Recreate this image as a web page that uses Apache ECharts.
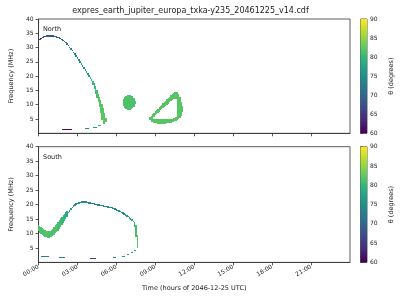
<!DOCTYPE html>
<html><head><meta charset="utf-8">
<script src="https://cdn.jsdelivr.net/npm/echarts@6/dist/echarts.min.js"></script>
<style>html,body{margin:0;padding:0;background:#fff}#c{width:400px;height:300px}</style>
</head><body><div id="c"></div>
<script>
const titleText = 'expres_earth_jupiter_europa_txka-y235_20461225_v14.cdf';
const panelNames = ['North', 'South'];
const timeTicks = [0, 3, 6, 9, 12, 15, 18, 21];
const timeTickLabels = ['00:00', '03:00', '06:00', '09:00', '12:00', '15:00', '18:00', '21:00'];
const freqTicks = [5, 10, 15, 20, 25, 30, 35, 40];
const thetaTicks = [60, 65, 70, 75, 80, 85, 90];
const viridis = ['#440154', '#482878', '#3e4989', '#31688e', '#26828e', '#1f9e89', '#35b779', '#6ece58', '#b5de2b', '#fde725'];

// thin emission points: [time (h), frequency (MHz), theta (deg)]
const northDots = [
  [0.0,32.4,66],[0.1,32.8,66],[0.2,33.2,66],[0.3,33.5,67],[0.4,33.7,67],[0.5,33.9,67],
  [0.6,34.0,68],[0.7,34.0,68],[0.8,34.0,68],[0.9,34.0,68],[1.0,34.0,68],[1.1,34.0,68],
  [1.2,33.9,68],[1.3,33.8,69],[1.4,33.7,69],[1.5,33.6,69],[1.6,33.4,70],[1.7,33.2,70],
  [1.8,32.9,70],[1.9,32.5,71],[2.0,32.1,71],[2.1,31.7,71],[2.2,31.2,72],[2.3,30.7,72],
  [2.4,30.1,72],[2.5,29.5,73],[2.6,28.9,73],[2.7,28.3,73],[2.8,27.7,73],[2.9,27.1,74],
  [3.0,26.4,74],[3.1,25.7,74],[3.2,25.0,74],[3.3,24.3,75],[3.4,23.6,75],[3.5,22.9,75],
  [3.6,22.2,75],[3.7,21.5,76],[3.8,20.8,76],[3.9,20.1,77],[4.0,19.4,78],[4.1,18.7,79]
];
// emission columns: [time (h), low freq (MHz), high freq (MHz), theta (deg)]
const northColumns = [
  [4.2,17.0,18.4,80],[4.3,15.4,17.6,80],[4.4,13.8,16.4,81],[4.5,12.3,15.1,81],[4.6,10.8,13.9,82],
  [4.7,9.3,12.7,82],[4.8,7.0,11.6,82],[4.9,4.8,10.3,82],[5.0,3.4,8.9,82],[5.1,3.2,7.2,82],[5.2,3.8,5.5,82],
  [6.55,9.6,12.1,81.5],[6.65,8.9,12.8,81.5],[6.75,8.5,13.2,81.5],[6.85,8.3,13.4,81.5],[6.95,8.2,13.4,81.5],
  [7.05,8.2,13.4,81.5],[7.15,8.4,13.2,81.5],[7.25,8.8,12.9,81.5],[7.35,9.3,12.3,81.5],[7.45,10.2,11.4,81.5],
  [8.6,4.6,5.6,82],[8.7,4.1,6.2,82],[8.8,3.8,6.7,82],
  [8.9,3.6,5.0,82],[8.9,5.8,7.2,82],[9.0,3.5,4.9,82],[9.0,6.3,7.7,82],[9.1,3.5,4.9,82],[9.1,6.8,8.2,82],
  [9.2,3.4,4.9,82],[9.2,7.2,8.6,82],[9.3,3.4,4.9,82],[9.3,7.6,9.1,82],[9.4,3.4,4.9,82],[9.4,8.0,9.6,82],
  [9.5,3.4,4.9,82],[9.5,8.4,10.0,82],[9.6,3.4,4.9,82],[9.6,8.8,10.5,82],[9.7,3.4,4.9,82],[9.7,9.2,11.0,82],
  [9.8,3.4,4.9,82],[9.8,9.6,11.4,82],[9.9,3.5,4.9,82],[9.9,10.0,11.9,82],[10.0,3.5,5.0,82],[10.0,10.4,12.3,82],
  [10.1,3.6,5.0,82],[10.1,10.8,12.8,82],[10.2,3.7,5.0,82],[10.2,11.2,13.3,82],[10.3,3.9,5.1,82],[10.3,11.6,13.8,82],
  [10.4,4.0,5.2,82],[10.4,11.9,14.2,82],[10.5,4.2,5.4,82],[10.5,12.1,14.5,82],[10.6,4.4,5.8,82],[10.6,12.0,14.6,82],
  [10.7,4.6,14.4,82],[10.8,4.9,13.8,82],[10.9,5.4,12.8,82],[11.0,6.2,11.0,82],[11.05,7.5,9.5,82]
];
// short horizontal dashes: [start time (h), end time (h), frequency (MHz), theta (deg)]
const northDashes = [
  [1.8,2.55,1.3,61],[3.6,3.9,1.7,74],[4.2,4.5,2.2,76],[4.55,4.8,2.7,80]
];

const southDots = [
  [2.3,17.2,78],[2.4,17.8,77],[2.5,18.4,77],[2.6,19.0,76],[2.7,19.5,75],[2.8,19.9,75],
  [2.9,20.2,75],[3.0,20.4,75],[3.1,20.6,75],[3.2,20.7,75],[3.3,20.8,74],[3.4,20.9,74],
  [3.5,20.9,74],[3.6,20.9,74],[3.7,20.8,74],[3.8,20.7,74],[3.9,20.6,74],[4.0,20.5,74],
  [4.1,20.4,74],[4.2,20.3,74],[4.3,20.2,74],[4.4,20.1,74],[4.5,20.0,74],[4.6,19.9,74],
  [4.7,19.8,74],[4.8,19.7,74],[4.9,19.6,74],[5.0,19.5,74],[5.1,19.4,74],[5.2,19.3,74],
  [5.3,19.2,74],[5.4,19.1,74],[5.5,19.0,74],[5.6,18.9,74],[5.7,18.8,74],[5.8,18.6,74],
  [5.9,18.4,74],[6.0,18.2,74],[6.1,18.0,74],[6.2,17.8,75],[6.3,17.6,75],[6.4,17.3,75],
  [6.5,17.0,75],[6.6,16.7,75],[6.7,16.4,76],[6.8,16.1,76],[6.9,15.8,76],[7.0,15.4,77],
  [7.1,15.0,77],[7.2,14.6,78],[7.3,14.1,78]
];
const southColumns = [
  [0.0,10.7,13.0,81.5],[0.1,10.2,12.6,81.5],[0.2,9.8,12.2,81.5],[0.3,9.4,11.8,81.5],[0.4,9.1,11.4,81.5],
  [0.5,8.9,11.1,81.5],[0.6,8.7,10.9,81.5],[0.7,8.6,10.8,81.5],[0.8,8.6,10.8,81.5],[0.9,8.7,10.9,81.5],
  [1.0,8.9,11.2,81.5],[1.1,9.2,11.7,81.5],[1.2,9.6,12.3,81.5],[1.3,10.0,12.8,81.5],[1.4,10.5,13.3,81.5],
  [1.5,11.0,13.8,81],[1.6,11.6,14.5,81],[1.7,12.3,15.2,81],[1.8,12.9,15.8,80],[1.9,13.6,16.3,80],
  [2.0,14.3,16.8,79],[2.1,15.0,17.3,79],[2.2,15.8,17.7,78],
  [7.4,12.2,14.0,79],[7.5,8.9,12.9,81],[7.6,4.9,9.5,82]
];
const southDashes = [
  [0.2,0.8,1.9,73],[1.55,2.05,1.55,73],[4.0,4.45,1.5,66],[5.7,6.0,1.8,74],
  [6.45,6.65,2.2,75],[6.85,7.0,2.8,76],[7.1,7.25,3.3,77],[7.35,7.5,4.0,78]
];
const thetaRange = [60, 90];

const FONT = 'DejaVu Sans';
const TXT = '#222';
const COL_HALF = 0.05;

function fillStyle(api) { return { fill: api.visual('color'), stroke: null, lineWidth: 0 }; }
function snapRect(x0, y0, x1, y1) {
  const ax = Math.round(x0), bx = Math.max(Math.round(x1), ax + 1);
  const ay = Math.round(y0), by = Math.max(Math.round(y1), ay + 1);
  return { x: ax, y: ay, width: bx - ax, height: by - ay };
}
function renderColumn(params, api) {
  const t = api.value(0), lo = api.value(1), hi = api.value(2);
  const a = api.coord([t - COL_HALF, hi]), b = api.coord([t + COL_HALF, lo]);
  return { type: 'rect', shape: snapRect(a[0], a[1], b[0], b[1]), style: fillStyle(api) };
}
function renderDash(params, api) {
  const a = api.coord([api.value(0), api.value(2)]), b = api.coord([api.value(1), api.value(2)]);
  return { type: 'rect', shape: snapRect(a[0], a[1] - 0.5, b[0], a[1] + 0.5), style: fillStyle(api) };
}
function renderDot(params, api) {
  const p = api.coord([api.value(0), api.value(1)]);
  return { type: 'rect', shape: snapRect(p[0] - 0.75, p[1] - 0.75, p[0] + 0.75, p[1] + 0.75), style: fillStyle(api) };
}
function renderBar(params, api) {
  const a = api.coord([0, api.value(1)]), b = api.coord([1, api.value(0)]);
  return { type: 'rect', shape: { x: a[0], y: a[1], width: b[0] - a[0], height: b[1] - a[1] },
    style: { stroke: null, lineWidth: 0, fill: new echarts.graphic.LinearGradient(0, 1, 0, 0,
      viridis.map((c, i) => ({ offset: i / (viridis.length - 1), color: c }))) } };
}

const grids = [
  { left: 31, top: 19, width: 319, height: 114.3 },
  { left: 31, top: 146.7, width: 319, height: 115.7 }
];
const gridOpt = [];
grids.forEach(g => gridOpt.push(Object.assign({ show: true, borderColor: '#333', borderWidth: 0.8, backgroundColor: 'transparent' }, g)));
grids.forEach(g => gridOpt.push({ show: true, borderColor: '#333', borderWidth: 0.8, left: 360.5, width: 6.5, top: g.top, height: g.height }));

const axLine = { show: true, lineStyle: { color: '#333', width: 0.8 } };
const xAxes = [0, 1].map(i => ({
  type: 'value', gridIndex: i, min: 0, max: 24, interval: 3,
  axisLine: axLine, splitLine: { show: false },
  axisTick: { show: true, length: 3, lineStyle: { color: '#333', width: 0.8 }, customValues: timeTicks },
  axisLabel: { show: i === 1, customValues: timeTicks, rotate: 30, margin: 4, fontSize: 6, fontFamily: FONT, color: TXT,
    formatter: v => timeTickLabels[timeTicks.indexOf(v)] },
  name: i === 1 ? 'Time (hours of 2046-12-25 UTC)' : '', nameLocation: 'middle', nameGap: 22,
  nameTextStyle: { fontSize: 6.5, fontFamily: FONT, color: TXT }
}));
[2, 3].forEach(i => xAxes.push({ type: 'value', gridIndex: i, min: 0, max: 1, show: false }));

const yAxes = [0, 1].map(i => ({
  type: 'value', gridIndex: i, min: 0, max: 40, interval: 5,
  axisLine: axLine, splitLine: { show: false },
  axisTick: { show: true, length: 3, lineStyle: { color: '#333', width: 0.8 }, customValues: freqTicks },
  axisLabel: { customValues: freqTicks, margin: 5, fontSize: 6, fontFamily: FONT, color: TXT },
  name: 'Frequency (MHz)', nameLocation: 'middle', nameGap: 17, nameRotate: 90,
  nameTextStyle: { fontSize: 6.5, fontFamily: FONT, color: TXT }
}));
[2, 3].forEach(i => yAxes.push({
  type: 'value', gridIndex: i, min: thetaRange[0], max: thetaRange[1], interval: 5, position: 'right',
  axisLine: { show: false }, splitLine: { show: false },
  axisTick: { show: true, length: 2, lineStyle: { color: '#333', width: 0.8 }, customValues: thetaTicks },
  axisLabel: { customValues: thetaTicks, margin: 3, fontSize: 6, fontFamily: FONT, color: TXT },
  name: 'θ (degrees)', nameLocation: 'middle', nameGap: 21, nameRotate: 90,
  nameTextStyle: { fontSize: 6.5, fontFamily: FONT, color: TXT }
}));

const series = [];
[[northColumns, northDashes, northDots], [southColumns, southDashes, southDots]].forEach((set, i) => {
  series.push({ type: 'custom', xAxisIndex: i, yAxisIndex: i, renderItem: renderColumn, data: set[0], encode: { x: 0, y: [1, 2] } });
  series.push({ type: 'custom', xAxisIndex: i, yAxisIndex: i, renderItem: renderDash, data: set[1], encode: { x: [0, 1], y: 2 } });
  series.push({ type: 'custom', xAxisIndex: i, yAxisIndex: i, renderItem: renderDot, data: set[2], encode: { x: 0, y: 1 } });
});
[2, 3].forEach(i => series.push({ type: 'custom', xAxisIndex: i, yAxisIndex: i, renderItem: renderBar, data: [thetaRange], silent: true }));

const option = {
  animation: false,
  backgroundColor: '#fff',
  title: [
    { text: titleText, left: 190.5, top: 7, padding: 0, textAlign: 'center', textStyle: { fontSize: 8, fontWeight: 'normal', fontFamily: FONT, color: TXT } },
    { text: panelNames[0], left: 43, top: 26, padding: 0, textStyle: { fontSize: 6.5, fontWeight: 'normal', fontFamily: FONT, color: TXT } },
    { text: panelNames[1], left: 43, top: 154, padding: 0, textStyle: { fontSize: 6.5, fontWeight: 'normal', fontFamily: FONT, color: TXT } }
  ],
  grid: gridOpt,
  xAxis: xAxes,
  yAxis: yAxes,
  visualMap: [
    { type: 'continuous', show: false, min: thetaRange[0], max: thetaRange[1], dimension: 3, seriesIndex: [0, 1, 3, 4], inRange: { color: viridis } },
    { type: 'continuous', show: false, min: thetaRange[0], max: thetaRange[1], dimension: 2, seriesIndex: [2, 5], inRange: { color: viridis } }
  ],
  series: series
};
const chart = echarts.init(document.getElementById('c'), null, { renderer: 'canvas' });
chart.setOption(option);
</script></body></html>
